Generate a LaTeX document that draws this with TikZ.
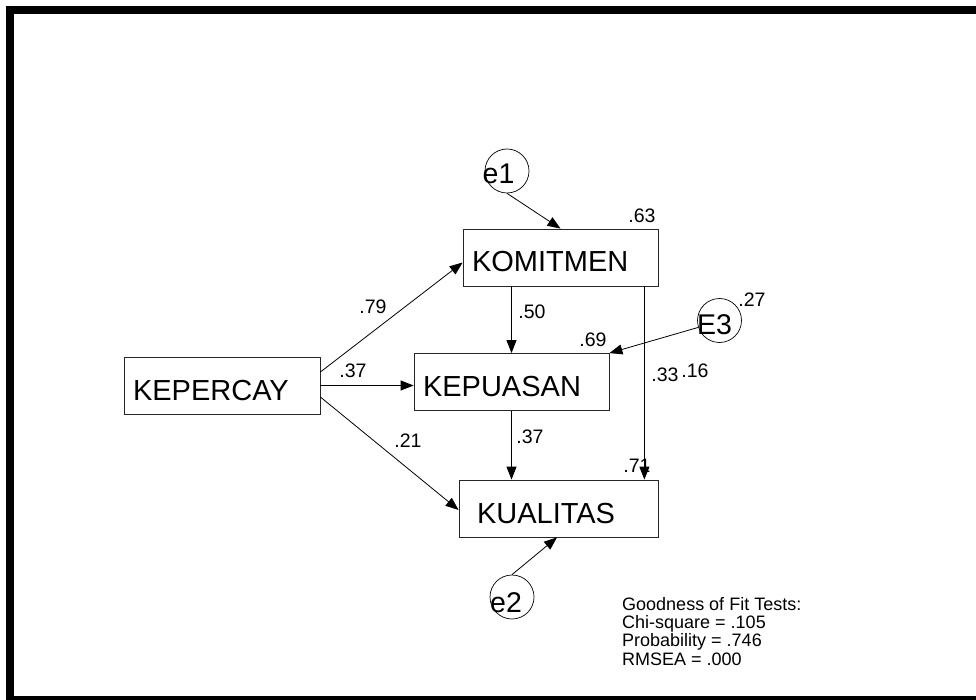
\documentclass[tikz,border=0pt]{standalone}
\usepackage{fontspec}
\setmainfont{Liberation Sans}
\usetikzlibrary{arrows.meta, positioning, calc}

\begin{document}
\begin{tikzpicture}[x=1pt, y=-1pt,
	obs/.style={draw=black!85, line width=0.8pt, rectangle, minimum height=57pt, inner xsep=9pt, inner ysep=0pt,
		align=left, text height=29pt, text depth=0pt, font=\fontsize{29}{34}\selectfont},
	err/.style={draw, circle, line width=0.7pt, minimum size=44pt, inner sep=0pt},
	errlbl/.style={font=\fontsize{28.5}{34}\selectfont, inner sep=0pt},
	coef/.style={font=\fontsize{19.5}{23}\selectfont, inner sep=0pt},
	reg/.style={line width=0.8pt, -{Triangle[length=13pt,width=10pt]}}]
	\useasboundingbox (0,0) rectangle (976,700);
	\draw[line width=8pt] (10,10) rectangle (990,700);
	% variables
	\node[obs, text width=177pt] (komitmen) at (560.5,257.5) {KOMITMEN};
	\node[obs, text width=177pt] (kepuasan) at (511.5,382) {KEPUASAN};
	\node[obs, inner xsep=18pt, text width=163pt] (kualitas) at (558.5,508.5) {KUALITAS};
	\node[obs, text width=178pt] (kepercay) at (222,385.5) {KEPERCAY};
	% error terms
	\node[err, label={[errlbl, xshift=-8.5pt, yshift=-2.5pt]center:e1}] (e1) at (507,171) {};
	\node[err, label={[errlbl, xshift=-5pt, yshift=-4.5pt]center:E3}] (e3) at (719.5,320.5) {};
	\node[err, label={[errlbl, xshift=-6pt, yshift=-5.5pt]center:e2}] (e2) at (512,597) {};
	% estimates
	\node[coef] (l63) at (642,216) {.63};
	\node[coef] (l79) at (373,307) {.79};
	\node[coef] (l37a) at (353,371) {.37};
	\node[coef] (l21) at (408,441) {.21};
	\node[coef] (l50) at (532,312) {.50};
	\node[coef] (l69) at (593,340) {.69};
	\node[coef] (l33) at (665,375) {.33};
	\node[coef] (l16) at (695,371) {.16};
	\node[coef] (l37b) at (530,437) {.37};
	\node[coef] (l71) at (637,466) {.71};
	\node[coef] (l27) at (752,300) {.27};
	% paths
	\draw[reg] (e1.south) -- (komitmen.north);
	\draw[reg] ([yshift=13.5pt]kepercay.east) -- ([yshift=-5pt]komitmen.west);
	\draw[reg] (kepercay.east) -- (kepercay.east -| kepuasan.west);
	\draw[reg] ([yshift=-11.5pt]kepercay.east) -- ([yshift=-1.5pt]kualitas.west);
	\draw[reg] (komitmen.south -| kepuasan.north) -- (kepuasan.north);
	\draw[reg] ([xshift=-14pt]komitmen.south east) -- ([xshift=-14pt]kualitas.north east);
	\draw[reg] (e3.198) -- (kepuasan.north east);
	\draw[reg] (kepuasan.south) -- (kepuasan.south |- kualitas.north);
	\draw[reg] (e2.north) -- ([xshift=-1.5pt]kualitas.south);
	% fit
	\node[anchor=north west, align=left, inner sep=0pt, font=\fontsize{18}{18.3}\selectfont] (gof) at (622,597)
		{Goodness of Fit Tests:\\Chi-square = .105\\Probability = .746\\RMSEA = .000};
\end{tikzpicture}
\end{document}
